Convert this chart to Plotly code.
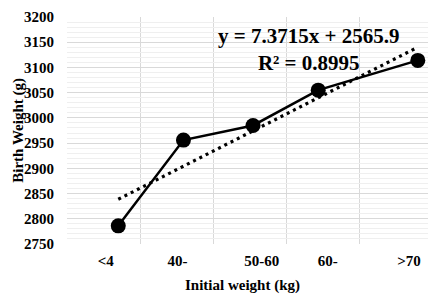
import plotly.graph_objects as go

# ---- data ----
initial_weight_x = [37.0, 45.9, 55.4, 64.3, 77.9]
birth_weight = [2786, 2956, 2985, 3055, 3114]
x_tick_labels = ["<4", "40-", "50-60", "60-", ">70"]
trend_slope = 7.3715
trend_intercept = 2565.9
r_squared = 0.8995

# ---- layout helpers ----
label_pos = [35.3, 45.1, 56.6, 65.6, 76.7]
trend_x = [initial_weight_x[0], initial_weight_x[-1]]
trend_y = [trend_slope * v + trend_intercept for v in trend_x]

FONT = "Liberation Serif"

fig = go.Figure()
fig.add_trace(go.Scatter(
    x=trend_x, y=trend_y, mode="lines",
    line=dict(color="black", width=3.2, dash="3px,4px"),
    hoverinfo="skip", showlegend=False))
fig.add_trace(go.Scatter(
    x=initial_weight_x, y=birth_weight, mode="lines+markers",
    line=dict(color="black", width=2.5),
    marker=dict(color="black", size=15),
    cliponaxis=False, showlegend=False))

fig.update_layout(
    width=428, height=297,
    margin=dict(l=67, r=0, t=17, b=53, autoexpand=False),
    paper_bgcolor="white", plot_bgcolor="white",
    font=dict(family=FONT, color="black"),
    xaxis=dict(
        range=[30, 79.29], tickmode="array", tickvals=label_pos,
        ticktext=x_tick_labels, showgrid=False, zeroline=False,
        ticks="", ticklabelstandoff=6,
        tickfont=dict(family=FONT, size=15, weight="bold", color="black"),
        minor=dict(tickmode="array", tickvals=[30, 40, 50, 60, 70, 80],
                   showgrid=True, gridcolor="#d9d9d9", gridwidth=1.3, ticks=""),
    ),
    yaxis=dict(
        range=[2750, 3200], tickmode="linear", tick0=2750, dtick=50,
        showgrid=True, gridcolor="#d9d9d9", gridwidth=1.3, zeroline=False,
        ticks="", ticklabelstandoff=12,
        tickfont=dict(family=FONT, size=15, weight="bold", color="black"),
        minor=dict(dtick=10, showgrid=True, gridcolor="#efefef", gridwidth=1, ticks=""),
    ),
    annotations=[
        dict(text=f"y = {trend_slope}x + {trend_intercept}<br>R² = {r_squared}",
             xref="paper", yref="paper", x=0.668, y=0.857,
             xanchor="center", yanchor="middle", align="center", showarrow=False,
             font=dict(family=FONT, size=21, weight="bold", color="black")),
        dict(text="Initial weight (kg)", xref="paper", yref="paper",
             x=0.485, y=-0.185, xanchor="center", yanchor="middle", showarrow=False,
             font=dict(family=FONT, size=15, weight="bold", color="black")),
        dict(text="Birth Weight (g)", xref="paper", yref="paper",
             x=-0.135, y=0.5, xanchor="center", yanchor="middle", showarrow=False,
             textangle=-90,
             font=dict(family=FONT, size=15, weight="bold", color="black")),
    ],
)

fig.write_html(
    "out.html",
    config={"displayModeBar": False},
    post_script="document.body.style.margin='0';document.body.style.overflow='hidden';",
)
